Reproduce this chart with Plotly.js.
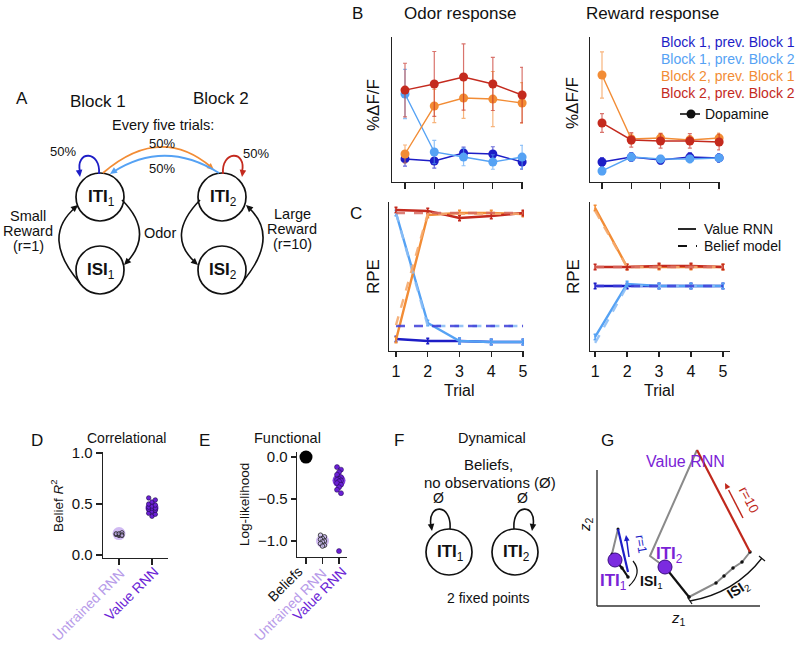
<!DOCTYPE html>
<html><head><meta charset="utf-8">
<script src="https://cdn.plot.ly/plotly-3.0.1.min.js"></script>
<style>html,body{margin:0;padding:0;background:#fff}#c{width:800px;height:645px}</style>
</head><body><div id="c"></div>
<script>
// ---------- data ----------
const trials = [1, 2, 3, 4, 5];
const seriesNames = ["Block 1, prev. Block 1", "Block 1, prev. Block 2", "Block 2, prev. Block 1", "Block 2, prev. Block 2"];
// B: odor response (%dF/F, arbitrary units)
const odorB1P1 = [1.59, 1.45, 2.00, 1.93, 1.38];
const odorB1P1Err = [0.5, 0.5, 0.4, 0.5, 0.5];
const odorB1P2 = [6.07, 2.07, 1.72, 1.38, 1.72];
const odorB1P2Err = [1.7, 0.8, 0.6, 0.5, 0.8];
const odorB2P1 = [1.93, 5.24, 5.79, 5.72, 5.45];
const odorB2P1Err = [0.62, 1.15, 1.4, 1.9, 1.4];
const odorB2P2 = [6.34, 6.76, 7.24, 6.76, 6.00];
const odorB2P2Err = [1.85, 2.24, 2.28, 1.83, 1.9];
// B: reward response
const rewB1P1 = [1.38, 1.72, 1.52, 1.72, 1.66];
const rewB1P1Err = [0.3, 0.3, 0.3, 0.3, 0.3];
const rewB1P2 = [0.76, 1.72, 1.59, 1.59, 1.66];
const rewB1P2Err = [0.25, 0.25, 0.25, 0.25, 0.25];
const rewB2P1 = [7.38, 2.97, 3.03, 2.90, 3.03];
const rewB2P1Err = [1.6, 0.35, 0.35, 0.3, 0.35];
const rewB2P2 = [4.07, 2.90, 2.83, 2.83, 2.76];
const rewB2P2Err = [0.65, 0.5, 0.5, 0.5, 0.55];
// C: RPE, odor (Value RNN / Belief model)
const rpeOdorRnnB1P1 = [0.81, 0.67, 0.67, 0.60, 0.60];
const rpeOdorRnnB1P2 = [9.26, 1.88, 0.67, 0.60, 0.60];
const rpeOdorRnnB2P1 = [0.74, 9.13, 9.26, 9.26, 9.19];
const rpeOdorRnnB2P2 = [9.46, 9.40, 8.93, 9.06, 9.26];
const rpeOdorBelB1P1 = [1.68, 1.68, 1.68, 1.68, 1.68];
const rpeOdorBelB1P2 = [9.26, 1.68, 1.68, 1.68, 1.68];
const rpeOdorBelB2P1 = [1.74, 9.20, 9.20, 9.20, 9.20];
const rpeOdorBelB2P2 = [9.26, 9.26, 9.26, 9.26, 9.26];
// C: RPE, reward
const rpeRewRnnB1P1 = [4.36, 4.36, 4.36, 4.36, 4.36];
const rpeRewRnnB1P2 = [0.94, 4.50, 4.36, 4.36, 4.36];
const rpeRewRnnB2P1 = [9.60, 5.64, 5.64, 5.64, 5.64];
const rpeRewRnnB2P2 = [5.64, 5.64, 5.70, 5.70, 5.64];
const rpeRewBelB1P1 = [4.36, 4.36, 4.36, 4.36, 4.36];
const rpeRewBelB1P2 = [0.54, 4.36, 4.36, 4.36, 4.36];
const rpeRewBelB2P1 = [9.40, 5.64, 5.64, 5.64, 5.64];
const rpeRewBelB2P2 = [5.64, 5.64, 5.64, 5.64, 5.64];
// D: correlational (belief R^2)
const corrCats = ["Untrained RNN", "Value RNN"];
const corrUntrained = [0.19, 0.20, 0.20, 0.21, 0.21, 0.22, 0.20, 0.19];
const corrValue = [0.38, 0.40, 0.41, 0.43, 0.44, 0.45, 0.46, 0.46, 0.47, 0.48, 0.49, 0.50, 0.52, 0.54, 0.56];
const corrMeans = [0.21, 0.46];
// E: functional (log-likelihood)
const llCats = ["Beliefs", "Untrained RNN", "Value RNN"];
const llBeliefs = [0.0];
const llUntrained = [-0.93, -0.95, -0.97, -0.98, -1.00, -1.01, -1.03, -1.05, -1.06];
const llValue = [-0.12, -0.15, -0.18, -0.21, -0.24, -0.26, -0.27, -0.28, -0.29, -0.31, -0.33, -0.36, -0.39, -0.43, -1.12];
const llMeans = [0.0, -1.0, -0.28];
// G: Value RNN trajectory in (z1, z2)
const gIti2Z1 = [6.8, 9.2],  gIti2Z2 = [3.9, 0.9];
const gIsi2Z1 = [9.2, 11.9, 12.7, 13.6, 14.5, 15.3], gIsi2Z2 = [0.9, 2.3, 3.0, 3.8, 4.4, 5.4];
const gRew10Z1 = [15.3, 10.0], gRew10Z2 = [5.4, 15.6];
const gRet2Z1 = [10.0, 5.3, 6.8], gRet2Z2 = [15.6, 5.0, 3.9];
const gIti1Z1 = [1.8, 2.5, 3.1], gIti1Z2 = [4.6, 3.8, 2.9];
const gRew1Z1 = [3.1, 2.1], gRew1Z2 = [3.4, 7.7];
const gRet1Z1 = [2.1, 1.5, 1.8], gRet1Z2 = [7.7, 5.2, 4.6];
const gFixedZ1 = [1.8, 6.8], gFixedZ2 = [4.6, 3.9];

// ---------- style ----------
const FONT = 'Liberation Sans, Arial, Helvetica, sans-serif';
const C_DB = '#1d1dc6', C_LB = '#55a2f4', C_OR = '#f28c35', C_RD = '#c42a1e';
const C_DB_D = 'rgba(60,60,215,0.85)', C_LB_D = 'rgba(140,190,245,0.9)', C_OR_D = 'rgba(245,170,110,0.9)', C_RD_D = 'rgba(215,105,95,0.85)';
const C_PUR = '#6b1fd6', C_LPUR = '#b79be9';
const W = 800, H = 645;
const X = p => p / W, Y = p => 1 - p / H;
function rgba(hex, a){const n=parseInt(hex.slice(1),16);return `rgba(${n>>16},${(n>>8)&255},${n&255},${a})`;}

function axis(d0, d1, range, o){
  return Object.assign({domain:[X(d0), X(d1)], range, showgrid:false, zeroline:false, showline:true,
    linecolor:'#222', linewidth:1.3, ticks:'', showticklabels:false, fixedrange:true}, o||{});
}
function yaxis(d0, d1, range, o){
  return Object.assign({domain:[Y(d0), Y(d1)], range, showgrid:false, zeroline:false, showline:true,
    linecolor:'#222', linewidth:1.3, ticks:'', showticklabels:false, fixedrange:true}, o||{});
}

const traces = [];
function bSeries(ax, ay, y, err, color){
  traces.push({x:trials, y, xaxis:ax, yaxis:ay, mode:'lines+markers', cliponaxis:false,
    line:{color, width:1.4}, marker:{size:9, color},
    error_y:{type:'data', array:err, visible:true, color:rgba(color,0.65), thickness:1.2, width:2}});
}
bSeries('x','y', odorB1P1, odorB1P1Err, C_DB);
bSeries('x','y', odorB1P2, odorB1P2Err, C_LB);
bSeries('x','y', odorB2P1, odorB2P1Err, C_OR);
bSeries('x','y', odorB2P2, odorB2P2Err, C_RD);
bSeries('x2','y2', rewB1P1, rewB1P1Err, C_DB);
bSeries('x2','y2', rewB1P2, rewB1P2Err, C_LB);
bSeries('x2','y2', rewB2P1, rewB2P1Err, C_OR);
bSeries('x2','y2', rewB2P2, rewB2P2Err, C_RD);

function cSeries(ax, ay, y, color, dashed){
  const t = {x:trials, y, xaxis:ax, yaxis:ay, mode:'lines', cliponaxis:false,
    line:{color, width:2.4, dash: dashed ? 'dash' : 'solid'}};
  if(!dashed){ t.error_y = {type:'constant', value:0.18, color, thickness:1.6, width:1.5}; }
  traces.push(t);
}
cSeries('x3','y3', rpeOdorRnnB1P1, C_DB, false);
cSeries('x3','y3', rpeOdorRnnB1P2, C_LB, false);
cSeries('x3','y3', rpeOdorRnnB2P1, C_OR, false);
cSeries('x3','y3', rpeOdorRnnB2P2, C_RD, false);
cSeries('x3','y3', rpeOdorBelB1P2, C_LB_D, true);
cSeries('x3','y3', rpeOdorBelB1P1, C_DB_D, true);
cSeries('x3','y3', rpeOdorBelB2P1, C_OR_D, true);
cSeries('x3','y3', rpeOdorBelB2P2, C_RD_D, true);
cSeries('x4','y4', rpeRewRnnB1P1, C_DB, false);
cSeries('x4','y4', rpeRewRnnB1P2, C_LB, false);
cSeries('x4','y4', rpeRewRnnB2P1, C_OR, false);
cSeries('x4','y4', rpeRewRnnB2P2, C_RD, false);
cSeries('x4','y4', rpeRewBelB1P2, C_LB_D, true);
cSeries('x4','y4', rpeRewBelB1P1, C_DB_D, true);
cSeries('x4','y4', rpeRewBelB2P1, C_OR_D, true);
cSeries('x4','y4', rpeRewBelB2P2, C_RD_D, true);

// swarm offsets computed from rank (layout only)
function swarm(vals, pos, step){
  const idx = vals.map((v,i)=>i).sort((a,b)=>vals[a]-vals[b]);
  const out = new Array(vals.length);
  idx.forEach((k,r)=>{ const m = r % 3; out[k] = pos + (m===0?0:(m===1?step:-step)); });
  return out;
}
// D
traces.push({x:[0], y:[corrMeans[0]], xaxis:'x5', yaxis:'y5', mode:'markers', cliponaxis:false,
  marker:{size:13, color:'rgba(170,130,232,0.55)'}});
traces.push({x:[1], y:[corrMeans[1]], xaxis:'x5', yaxis:'y5', mode:'markers', cliponaxis:false,
  marker:{size:13, color:'rgba(115,40,220,0.9)'}});
traces.push({x:swarm(corrUntrained,0,0.09), y:corrUntrained, xaxis:'x5', yaxis:'y5', mode:'markers', cliponaxis:false,
  marker:{size:4, color:'rgba(190,170,230,0.6)', line:{color:'#222', width:0.8}}});
traces.push({x:swarm(corrValue,1,0.1), y:corrValue, xaxis:'x5', yaxis:'y5', mode:'markers', cliponaxis:false,
  marker:{size:4.5, color:C_PUR, line:{color:'#1a0a40', width:0.6}}});
// E
traces.push({x:[0], y:llBeliefs, xaxis:'x6', yaxis:'y6', mode:'markers', cliponaxis:false,
  marker:{size:13, color:'#000000', opacity:1}});
traces.push({x:[1], y:[llMeans[1]], xaxis:'x6', yaxis:'y6', mode:'markers', cliponaxis:false,
  marker:{size:13, color:'rgba(170,130,232,0.55)'}});
traces.push({x:[2], y:[llMeans[2]], xaxis:'x6', yaxis:'y6', mode:'markers', cliponaxis:false,
  marker:{size:13, color:'rgba(115,40,220,0.9)'}});
traces.push({x:swarm(llUntrained,1,0.12), y:llUntrained, xaxis:'x6', yaxis:'y6', mode:'markers', cliponaxis:false,
  marker:{size:4.5, color:'rgba(200,185,235,0.7)', line:{color:'#222', width:0.8}}});
traces.push({x:swarm(llValue,2,0.12), y:llValue, xaxis:'x6', yaxis:'y6', mode:'markers', cliponaxis:false,
  marker:{size:5, color:C_PUR, line:{color:'#1a0a40', width:0.5}}});
// G
function g(x, y, color, width, o){
  traces.push(Object.assign({x, y, xaxis:'x7', yaxis:'y7', mode:'lines', cliponaxis:false,
    line:{color, width}}, o||{}));
}
g(gRet2Z1, gRet2Z2, '#8a8a8a', 2);
g(gIsi2Z1, gIsi2Z2, '#8a8a8a', 2, {mode:'lines+markers', marker:{size:3.5, color:'#111'}});
g(gRew10Z1, gRew10Z2, '#c0281c', 2.2);
g(gIti2Z1, gIti2Z2, '#111', 2.2, {mode:'lines+markers', marker:{size:3, color:'#111'}});
g(gRet1Z1, gRet1Z2, '#8a8a8a', 2, {mode:'lines+markers', marker:{size:3, color:'#111'}});
g(gRew1Z1, gRew1Z2, '#1d1dc6', 2.2);
g(gIti1Z1, gIti1Z2, '#111', 2.2, {mode:'lines+markers', marker:{size:3.5, color:'#111'}});
traces.push({x:gFixedZ1, y:gFixedZ2, xaxis:'x7', yaxis:'y7', mode:'markers', cliponaxis:false,
  marker:{size:14, color:'#7b2be0', line:{color:'#3a0c80', width:1}}});

// ---------- annotations & shapes ----------
const ann = [], shp = [];
function T(text, x, y, size, color, o){
  ann.push(Object.assign({text, x:X(x), y:Y(y), xref:'paper', yref:'paper', showarrow:false,
    xanchor:'center', yanchor:'middle', font:{family:FONT, size:size||14, color:color||'#111'}}, o||{}));
}
function PP(segs){
  let s = '', i = 0;
  while(i < segs.length){
    if(typeof segs[i] === 'string'){ s += segs[i] + ' '; i++; }
    else { s += X(segs[i]).toFixed(5) + ',' + Y(segs[i+1]).toFixed(5) + ' '; i += 2; }
  }
  return s.trim();
}
function PATH(segs, color, width, dash){
  shp.push({type:'path', xref:'paper', yref:'paper', path:PP(segs), line:{color:color||'#111', width:width||1.6, dash:dash||'solid'}});
}
// filled triangular arrowhead at (hx,hy), pointing away from (cx,cy)
function AH(hx, hy, cx, cy, color, len, half){
  len = len || 7; half = half || 3.3;
  const dx = hx-cx, dy = hy-cy, L = Math.hypot(dx,dy), ux = dx/L, uy = dy/L, nx = -uy, ny = ux;
  const bx = hx - len*ux, by = hy - len*uy;
  shp.push({type:'path', xref:'paper', yref:'paper', fillcolor:color||'#111', line:{width:0},
    path:PP(['M',hx,hy,'L',bx+half*nx,by+half*ny,'L',bx-half*nx,by-half*ny,'Z'])});
}
function ARR(hx, hy, tx, ty, color){
  LINE(tx, ty, hx+(tx-hx)*0.2, hy+(ty-hy)*0.2, color, 1.5);
  AH(hx, hy, tx, ty, color, 6, 2.8);
}
function CIRC(cx, cy, r){
  shp.push({type:'circle', xref:'paper', yref:'paper', x0:X(cx-r), x1:X(cx+r), y0:Y(cy+r), y1:Y(cy-r), line:{color:'#111', width:1.7}});
}
function LINE(x0,y0,x1,y1,color,width,dash){
  shp.push({type:'line', xref:'paper', yref:'paper', x0:X(x0), y0:Y(y0), x1:X(x1), y1:Y(y1), line:{color, width, dash:dash||'solid'}});
}

// panel letters
T('A', 22, 98, 17); T('B', 357, 14, 17); T('C', 356, 213, 17);
T('D', 37, 440, 17); T('E', 204, 440, 17); T('F', 399, 440, 17); T('G', 607, 440, 17);

// ---- Panel A ----
T('Block 1', 98, 101, 17); T('Block 2', 221, 99, 17);
T('Every five trials:', 163, 125, 14.5);
CIRC(100, 197, 24); CIRC(100, 270, 24); CIRC(222, 197, 24); CIRC(222, 270, 24);
T('<b>ITI</b><sub>1</sub>', 101, 198, 17); T('<b>ISI</b><sub>1</sub>', 101, 271, 17);
T('<b>ITI</b><sub>2</sub>', 223, 198, 17); T('<b>ISI</b><sub>2</sub>', 223, 271, 17);
PATH(['M',80,283,'Q',40,237,76,207]); AH(78,205,40,237);
PATH(['M',122,200,'Q',155,233,126,263]); AH(124,265,155,233);
PATH(['M',200,200,'Q',165,236,196,263]); AH(198,265,165,236);
PATH(['M',244,280,'Q',280,236,248,207]); AH(246,205,280,236);
PATH(['M',99,174,'C',101,150,75,150,80,172], C_DB, 1.8); AH(80,177,77,155,C_DB);
PATH(['M',223,174,'C',221,150,247,150,242,172], C_RD, 1.8); AH(242,177,245,155,C_RD);
PATH(['M',103,173,'Q',160,124,211,167], C_OR, 1.8); AH(214,170,165,128,C_OR);
PATH(['M',219,173,'Q',165,139,113,172], C_LB, 1.8); AH(110,174,160,140,C_LB);
T('50%', 63, 151, 13); T('50%', 256, 153, 13); T('50%', 162, 143, 13); T('50%', 162, 168, 13);
T('Small', 28, 216, 14.5); T('Reward', 28, 231, 14.5); T('(r=1)', 28, 246, 14.5);
T('Odor', 160, 233, 14.5);
T('Large', 292, 214, 14.5); T('Reward', 292, 229, 14.5); T('(r=10)', 292, 244, 14.5);

// ---- Panel B ----
T('Odor response', 460, 14, 17); T('Reward response', 652, 14, 17);
T('%ΔF/F', 373, 105, 17, '#111', {textangle:-90});
T('%ΔF/F', 572, 103, 17, '#111', {textangle:-90});
const legCols = [C_DB, C_LB, C_OR, C_RD];
seriesNames.forEach((s,i)=>T(s, 797, 42 + i*17, 14, legCols[i], {xanchor:'right'}));
LINE(680,114,700,114,'#111',1.6);
shp.push({type:'circle', xref:'paper', yref:'paper', x0:X(686.5), x1:X(695.5), y0:Y(118.5), y1:Y(109.5), fillcolor:'#111', line:{color:'#111', width:0}});
T('Dopamine', 703, 114, 14, '#111', {xanchor:'left'});

// ---- Panel C ----
T('RPE', 373, 277, 17, '#111', {textangle:-90});
T('RPE', 573, 277, 17, '#111', {textangle:-90});
T('Trial', 460, 390, 16); T('Trial', 659, 390, 16);
LINE(678,229,696,229,'#111',1.8);
LINE(678,246,697,246,'#111',1.8,'dash');
T('Value RNN', 702, 229, 14, '#111', {xanchor:'left'});
T('Belief model', 702, 246, 14, '#111', {xanchor:'left'});

// ---- Panel D / E ----
T('Correlational', 126, 438, 14); T('Functional', 287, 438, 14.5);
T('Belief <i>R</i><sup>2</sup>', 57, 505, 13.5, '#111', {textangle:-90});
T('Log-likelihood', 245, 505, 13.5, '#111', {textangle:-90});
// rotated category labels
T(corrCats[0], 88, 605, 14, C_LPUR, {textangle:-45});
T(corrCats[1], 131, 594, 14, C_PUR, {textangle:-45});
T(llCats[0], 285, 584, 14, '#111', {textangle:-45});
T(llCats[1], 290, 605, 14, C_LPUR, {textangle:-45});
T(llCats[2], 319, 594, 14, C_PUR, {textangle:-45});

// ---- Panel F ----
T('Dynamical', 492, 438, 14.5);
T('Beliefs,', 488, 465, 15); T('no observations (Ø)', 490, 482, 15);
CIRC(449, 552, 23); CIRC(515, 552, 23);
T('<b>ITI</b><sub>1</sub>', 450, 553, 17); T('<b>ITI</b><sub>2</sub>', 516, 553, 17);
PATH(['M',450,529,'C',452,503,427,503,431,526]); AH(432,531,429,510);
PATH(['M',514,529,'C',512,503,537,503,533,526]); AH(532,531,535,510);
T('Ø', 439, 498, 14); T('Ø', 522, 498, 14);
T('2 fixed points', 488, 598, 14);

// ---- Panel G ----
T('Value RNN', 685, 461, 16, '#7a22d6');
LINE(597,606,760,606,'#333',1.4); LINE(597,606,597,470,'#333',1.4);
T('<i>z</i><sub>2</sub>', 585, 525, 15, '#111', {textangle:-90});
T('<i>z</i><sub>1</sub>', 678, 618, 15);
ARR(725,483,743,518,'#c0281c');
T('r=10', 749, 499, 13.5, '#c0281c', {textangle:62});
ARR(626,535,629,557,'#1d1dc6');
T('r=1', 641, 544, 12.5, '#1d1dc6', {textangle:80});
PATH(['M',633,561,'Q',643,573,629,586], '#111', 1.2);
T('<b>ISI</b><sub>1</sub>', 651, 582, 14);
PATH(['M',690,601,'Q',735,593,762,558], '#111', 1.3);
LINE(688,598,692,604,'#111',1.2); LINE(759,556,765,561,'#111',1.2);
T('<b>ISI</b><sub>2</sub>', 738, 590, 14, '#111', {textangle:-33});
T('<b>ITI</b><sub>1</sub>', 613, 582, 17, '#7a22d6');
T('<b>ITI</b><sub>2</sub>', 669, 555, 17, '#7a22d6');

// ---------- layout ----------
const tickB = {ticks:'outside', ticklen:6, tickwidth:1.3, tickcolor:'#222', tickvals:trials};
const tickC = {ticks:'outside', ticklen:5, tickwidth:1.3, tickcolor:'#222', tickvals:trials, showticklabels:true,
  tickfont:{family:FONT, size:16, color:'#111'}};
const layout = {
  width:W, height:H, margin:{l:0, r:0, t:0, b:0}, showlegend:false,
  paper_bgcolor:'#fff', plot_bgcolor:'rgba(0,0,0,0)', font:{family:FONT, size:14, color:'#111'},
  xaxis: axis(392, 523, [0.556, 5.03], Object.assign({anchor:'y'}, tickB)),
  yaxis: yaxis(182, 37, [0, 10], {anchor:'x'}),
  xaxis2: axis(590, 720, [0.59, 5.03], Object.assign({anchor:'y2'}, tickB)),
  yaxis2: yaxis(182, 37, [0, 10], {anchor:'x2'}),
  xaxis3: axis(389, 524, [0.78, 5.03], Object.assign({anchor:'y3'}, tickC)),
  yaxis3: yaxis(351, 202, [0, 10], {anchor:'x3'}),
  xaxis4: axis(590, 730, [0.84, 5.22], Object.assign({anchor:'y4'}, tickC)),
  yaxis4: yaxis(351, 202, [0, 10], {anchor:'x4'}),
  xaxis5: axis(103, 168, [-0.485, 1.485], {anchor:'y5', ticks:'outside', ticklen:6, tickwidth:1.3, tickcolor:'#222',
    tickvals:[0,1]}),
  yaxis5: yaxis(558, 452, [-0.029, 1.01], {anchor:'x5', ticks:'outside', ticklen:6, tickwidth:1.3, tickcolor:'#222',
    tickvals:[0, 0.5, 1], ticktext:['0.0','0.5','1.0'], showticklabels:true, tickfont:{family:FONT, size:15, color:'#111'}}),
  xaxis6: axis(297, 347, [-0.545, 2.485], {anchor:'y6', ticks:'outside', ticklen:6, tickwidth:1.3, tickcolor:'#222',
    tickvals:[0,1,2]}),
  yaxis6: yaxis(557, 452, [-1.19, 0.06], {anchor:'x6', ticks:'outside', ticklen:5, tickwidth:1.3, tickcolor:'#222',
    tickvals:[-1, -0.5, 0], ticktext:['\u22121.0','\u22120.5','0.0'], showticklabels:true, tickfont:{family:FONT, size:15, color:'#111'}}),
  xaxis7: axis(597, 760, [0, 16.3], {anchor:'y7', showline:false}),
  yaxis7: yaxis(606, 446, [0, 16.0], {anchor:'x7', showline:false}),
  annotations: ann, shapes: shp
};
Plotly.newPlot('c', traces, layout, {staticPlot:true, displayModeBar:false});
</script>
</body></html>
